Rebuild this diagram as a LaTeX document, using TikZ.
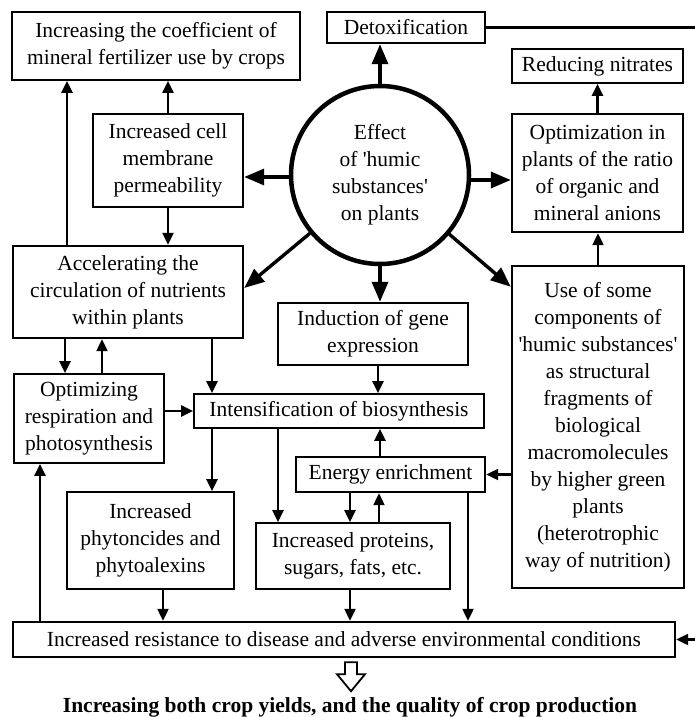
\documentclass[tikz,border=0pt]{standalone}
\usepackage{fontspec}
\setmainfont{Liberation Serif}
\usetikzlibrary{arrows.meta,calc}
\newcommand{\sq}{\textquotesingle}
\begin{document}
\begin{tikzpicture}[x=1pt,y=-1pt,
  every node/.style={font=\fontsize{21.5}{27}\selectfont},
  boxthin/.style={draw, line width=1.7pt, align=center, inner sep=0pt},
  boxthick/.style={draw, line width=2.4pt, align=center, inner sep=0pt},
  arr/.style={line width=2.2pt, -{Triangle[length=12pt,width=11pt]}},
  bigarr/.style={line width=3.4pt, -{Triangle[length=20pt,width=16pt]}},
  plainline/.style={line width=2.2pt}
]
\useasboundingbox (0,0) rectangle (695,717);

% nodes
\node[boxthin, minimum width=288pt, minimum height=68pt] (coef) at (156,46)
  {Increasing the coefficient of\\mineral fertilizer use by crops};
\node[boxthick, minimum width=158pt, minimum height=31pt] (detox) at (406,27.5) {Detoxification};
\node[boxthin, minimum width=171pt, minimum height=34pt] (nitr) at (597.5,66) {Reducing nitrates};
\node[boxthick, minimum width=171pt, minimum height=118pt] (opt) at (597.5,173)
  {Optimization in\\plants of the ratio\\of organic and\\mineral anions};
\node[boxthick, minimum width=150pt, minimum height=93pt] (cell) at (168,160.5)
  {Increased cell\\membrane\\permeability};
\node[draw, circle, line width=4.5pt, minimum size=178pt, inner sep=0pt, align=center] (circ) at (380,175)
  {Effect\\of \sq humic\\substances\sq\\on plants};
\node[boxthick, minimum width=230pt, minimum height=92pt] (acc) at (128,292)
  {Accelerating the\\circulation of nutrients\\within plants};
\node[boxthick, minimum width=190pt, minimum height=62pt] (ind) at (373,334)
  {Induction of gene\\expression};
\node[boxthick, minimum width=172pt, minimum height=322pt] (use) at (598,427)
  {Use of some\\components of\\\sq humic substances\sq\\as structural\\fragments of\\biological\\macromolecules\\by higher green\\plants\\(heterotrophic\\way of nutrition)};
\node[boxthin, minimum width=150pt, minimum height=89pt] (resp) at (89,418.5)
  {Optimizing\\respiration and\\photosynthesis};
\node[boxthin, minimum width=290pt, minimum height=34pt] (intens) at (339,411)
  {Intensification of biosynthesis};
\node[boxthick, minimum width=189pt, minimum height=35pt] (energy) at (390.5,474.5)
  {Energy enrichment};
\node[boxthin, minimum width=167pt, minimum height=97pt] (phyt) at (150.5,540.5)
  {Increased\\phytoncides and\\phytoalexins};
\node[boxthin, minimum width=194pt, minimum height=66pt] (prot) at (353,556)
  {Increased proteins,\\sugars, fats, etc.};
\node[boxthick, minimum width=662pt, minimum height=35pt] (res) at (344,639.5)
  {Increased resistance to disease and adverse environmental conditions};
\node[font=\fontsize{21.5}{27}\selectfont\bfseries] (fin) at (350,707)
  {Increasing both crop yields, and the quality of crop production};

\coordinate (re1) at (695,27.5);
\coordinate (re2) at (695,639.5);

% big arrows from circle
\draw[bigarr] (circ.north) -- (circ.north |- detox.south);
\draw[bigarr] ([yshift=-2pt]circ.west) -- ([yshift=-2pt]circ.west -| cell.east);
\draw[bigarr] ([yshift=-5pt]circ.east) -- ([yshift=-5pt]circ.east -| opt.west);
\draw[bigarr] (circ) -- ([yshift=4pt]acc.east);
\draw[bigarr] (circ) -- ([yshift=-22pt]use.north west);
\draw[bigarr] (circ.south) -- (circ.south |- ind.north);

% thin arrows
\draw[arr] (cell.north) -- (cell.north |- coef.south);
\draw[arr] ([xshift=-61pt]acc.north) -- ([xshift=-61pt]acc.north |- coef.south);
\draw[arr] (cell.south) -- (cell.south |- acc.north);
\draw[arr] (opt.north) -- (opt.north |- nitr.south);
\draw[arr] (use.north) -- (use.north |- opt.south);
\draw[arr] ([xshift=-63pt]acc.south) -- ([xshift=-63pt]acc.south |- resp.north);
\draw[arr] ([xshift=13pt]resp.north) -- ([xshift=13pt]resp.north |- acc.south);
\draw[arr] ([xshift=84pt]acc.south) -- ([xshift=84pt]acc.south |- intens.north);
\draw[arr] (resp.east |- intens.west) -- (intens.west);
\draw[arr] ([xshift=5pt]ind.south) -- ([xshift=5pt]ind.south |- intens.north);
\draw[arr] ([xshift=-10.5pt]energy.north) -- ([xshift=-10.5pt]energy.north |- intens.south);
\draw[arr] (use.west |- energy.east) -- (energy.east);
\draw[arr] ([xshift=-127pt]intens.south) -- ([xshift=-127pt]intens.south |- phyt.north);
\draw[arr] ([xshift=-61pt]intens.south) -- ([xshift=-61pt]intens.south |- prot.north);
\draw[arr] ([xshift=-40.5pt]energy.south) -- ([xshift=-40.5pt]energy.south |- prot.north);
\draw[arr] ([xshift=26pt]prot.north) -- ([xshift=26pt]prot.north |- energy.south);
\draw[arr] ([xshift=77.5pt]energy.south) -- ([xshift=77.5pt]energy.south |- res.north);
\draw[arr] ([xshift=12.5pt]phyt.south) -- ([xshift=12.5pt]phyt.south |- res.north);
\draw[arr] ([xshift=-3pt]prot.south) -- ([xshift=-3pt]prot.south |- res.north);
\draw[arr] ([xshift=-304pt]res.north) -- ([xshift=-304pt]res.north |- resp.south);
\draw[plainline] (detox.east) -- (re1);
\draw[arr] (re2) -- (res.east);

% hollow arrow
\coordinate (ha) at ([xshift=7pt,yshift=-4pt]res.south);
\draw[line width=1.8pt, line join=miter] (ha) ++(-6,0) -- ++(0,12) -- ++(-8,0) -- ++(14,17) -- ++(14,-17) -- ++(-8,0) -- ++(0,-12) -- cycle;
\end{tikzpicture}
\end{document}
